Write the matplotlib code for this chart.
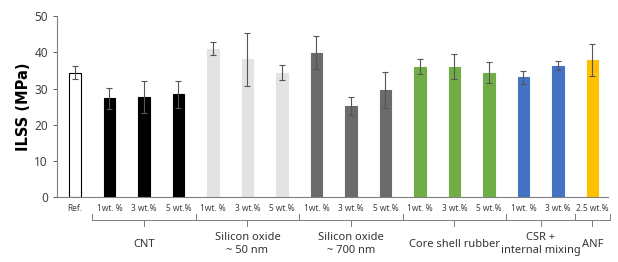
import matplotlib
matplotlib.use("Agg")
import matplotlib.pyplot as plt
import matplotlib.transforms as mtransforms

plt.rcParams['font.family'] = ['Noto Sans', 'DejaVu Sans']

tick_labels = ["Ref.", "1wt. %", "3 wt.%", "5 wt.%", "1wt. %", "3 wt.%", "5 wt.%",
               "1wt. %", "3 wt.%", "5 wt.%", "1wt. %", "3 wt.%", "5 wt.%",
               "1wt. %", "3 wt.%", "2.5 wt.%"]
values = [34.4, 27.3, 27.6, 28.4, 41.0, 38.1, 34.4, 39.9, 25.2, 29.5,
          36.0, 36.0, 34.4, 33.1, 36.3, 37.9]
errors = [1.9, 2.9, 4.4, 3.8, 1.8, 7.3, 2.0, 4.5, 2.5, 5.0,
          2.0, 3.5, 3.0, 1.8, 1.2, 4.4]
group_names = ["CNT", "Silicon oxide\n~ 50 nm", "Silicon oxide\n~ 700 nm",
               "Core shell rubber", "CSR +\ninternal mixing", "ANF"]
group_sizes = [3, 3, 3, 3, 2, 1]
ref_color = "#ffffff"
group_colors = ["#000000", "#e3e3e3", "#6b6b6b", "#70ad47", "#4472c4", "#ffc000"]

colors = [ref_color]
for c, n in zip(group_colors, group_sizes):
    colors += [c] * n
edges = ["#000000"] + colors[1:]

fig = plt.figure(figsize=(6.18, 2.62), dpi=100)
ax = fig.add_axes([0.0922, 0.247, 0.8916, 0.692])
x = list(range(len(values)))
ax.bar(x, values, width=0.33, color=colors, edgecolor=edges, linewidth=0.8, zorder=2)
ax.errorbar(x, values, yerr=errors, fmt="none", ecolor="#555555", elinewidth=0.8,
            capsize=2.2, capthick=0.8, zorder=3)

ax.set_xlim(-0.52, 15.45)
ax.set_ylim(0, 50)
ax.set_yticks([0, 10, 20, 30, 40, 50])
ax.tick_params(axis='y', labelsize=8.5, colors="#404040", length=3, width=0.6)
ax.set_xticks([])
for s in ["top", "right"]:
    ax.spines[s].set_visible(False)
ax.spines["left"].set_color("#7f7f7f")
ax.spines["bottom"].set_color("#7f7f7f")
ax.set_ylabel("ILSS (MPa)", fontsize=10.5, fontweight="bold", labelpad=2,
              family="DejaVu Sans")

trans = mtransforms.blended_transform_factory(ax.transData, ax.transAxes)
for xi, lab in zip(x, tick_labels):
    ax.text(xi, -0.06, lab, transform=trans, ha="center", va="center",
            fontsize=6, color="#404040")

start = 1
bc = "#7f7f7f"
for name, n in zip(group_names, group_sizes):
    x0 = start - 0.5
    x1 = start + n - 1 + 0.5
    xm = (x0 + x1) / 2
    ax.plot([x0, x0, x1, x1], [-0.09, -0.125, -0.125, -0.09], color=bc, lw=0.7,
            transform=trans, clip_on=False)
    ax.plot([xm, xm], [-0.125, -0.16], color=bc, lw=0.7, transform=trans, clip_on=False)
    ax.text(xm, -0.26, name, transform=trans, ha="center", va="center",
            fontsize=8, color="#333333", linespacing=1.25)
    start += n

fig.savefig("out.png", dpi=100)
